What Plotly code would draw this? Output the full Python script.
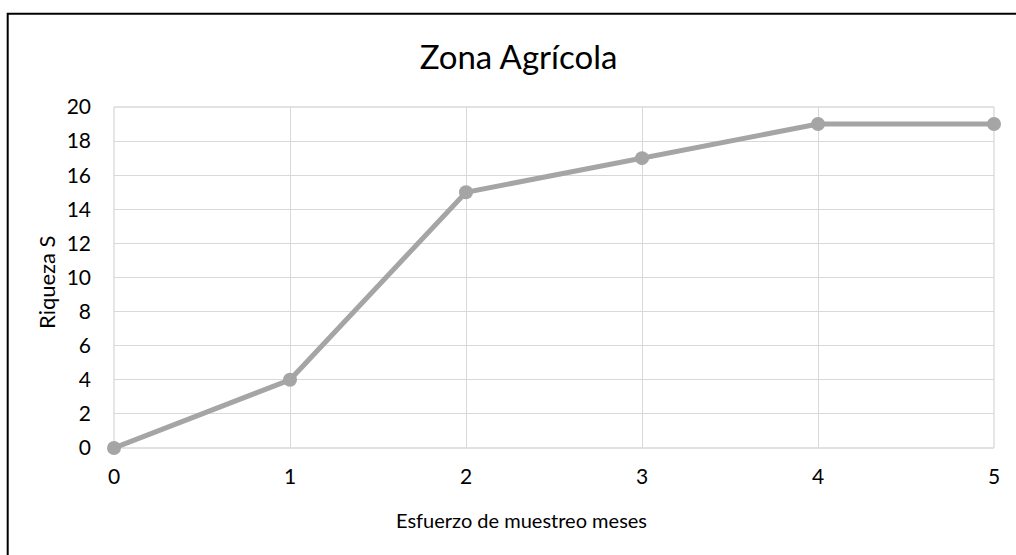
import plotly.graph_objects as go

meses = [0, 1, 2, 3, 4, 5]
riqueza = [0, 4, 15, 17, 19, 19]
y_ticks = [0, 2, 4, 6, 8, 10, 12, 14, 16, 18, 20]

FONT = "Lato, Calibri, sans-serif"
GRID = "#d9d9d9"

fig = go.Figure()
fig.add_trace(go.Scatter(
    x=meses, y=riqueza, mode="lines+markers",
    line=dict(color="#a5a5a5", width=5),
    marker=dict(color="#a5a5a5", size=14),
    cliponaxis=False, showlegend=False,
))

W, H = 1016, 555
L, R, T, B = 114, 22, 107, 107
pw, ph = W - L - R, H - T - B

fig.update_layout(
    width=W, height=H,
    margin=dict(l=L, r=R, t=T, b=B, pad=0),
    paper_bgcolor="white", plot_bgcolor="white",
    font=dict(family=FONT, color="#000000", size=21),
    title=dict(text="Zona Agrícola", x=518.5 / W, xref="container",
               xanchor="center", y=1 - 57 / H, yanchor="middle",
               font=dict(family=FONT, size=33, color="#000000")),
    xaxis=dict(range=[0, 5], tickvals=meses, showgrid=True, gridcolor=GRID, gridwidth=1.3,
               zeroline=False, showline=False, ticks="", ticklabelstandoff=14,
               fixedrange=True),
    yaxis=dict(range=[0, 20], tickvals=y_ticks, showgrid=True, gridcolor=GRID, gridwidth=1.3,
               zeroline=False, showline=False, ticks="", ticklabelstandoff=22,
               fixedrange=True),
    annotations=[
        dict(text="Riqueza S", xref="paper", yref="paper",
             x=(46 - L) / pw, y=1 - (282 - T) / ph, xanchor="center", yanchor="middle",
             textangle=-90, showarrow=False, font=dict(family=FONT, size=22, color="#000000")),
        dict(text="Esfuerzo de muestreo meses", xref="paper", yref="paper",
             x=(521.5 - L) / pw, y=1 - (520 - T) / ph, xanchor="center", yanchor="middle",
             showarrow=False, font=dict(family=FONT, size=20, color="#000000")),
    ],
    shapes=[
        dict(type="rect", xref="paper", yref="paper",
             x0=(7.7 - L) / pw, x1=(W + 10 - L) / pw,
             y0=1 - (H + 10 - T) / ph, y1=1 + (T - 13.7) / ph,
             line=dict(color="black", width=2), fillcolor="rgba(0,0,0,0)", layer="above"),
        dict(type="line", xref="paper", yref="paper", x0=1, x1=1, y0=0, y1=1,
             line=dict(color=GRID, width=1.3), layer="below"),
        dict(type="line", xref="paper", yref="paper", x0=0, x1=1, y0=1, y1=1,
             line=dict(color=GRID, width=1.3), layer="below"),
        dict(type="line", xref="paper", yref="paper", x0=0, x1=1, y0=0, y1=0,
             line=dict(color=GRID, width=1.3), layer="below"),
        dict(type="line", xref="paper", yref="paper", x0=0, x1=0, y0=0, y1=1,
             line=dict(color=GRID, width=1.3), layer="below"),
    ],
)

fig.write_html("out.html", config={"displayModeBar": False},
               post_script="document.body.style.margin='0';document.body.style.overflow='hidden';")
